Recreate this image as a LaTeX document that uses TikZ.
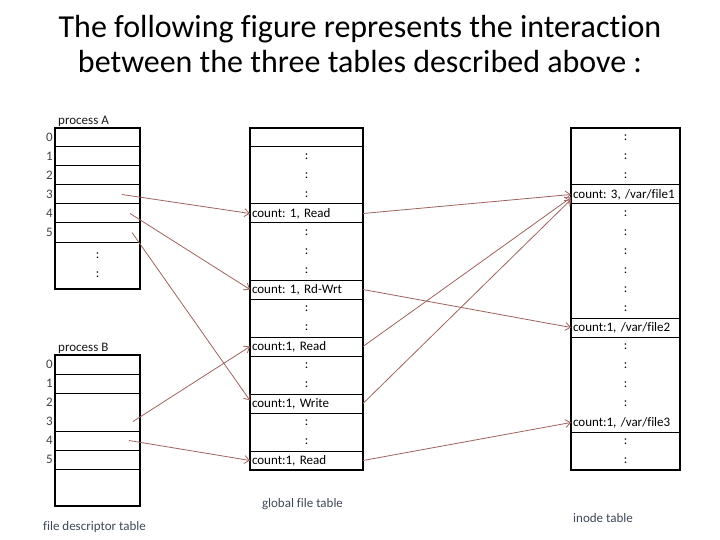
\documentclass[tikz,border=0pt]{standalone}
\usepackage{fontspec}
\setmainfont{Carlito}[Ligatures={NoCommon,NoRare,NoContextual}]
\usepackage{xcolor}
\usepackage{tikz}
\usetikzlibrary{arrows.meta,positioning,fit}
\definecolor{linkred}{RGB}{160,98,94}
\definecolor{capgray}{RGB}{62,72,86}
\frenchspacing

\begin{document}
\begin{tikzpicture}[
  x=1pt, y=-1pt,
  node distance=0pt,
  slot/.style={inner xsep=2pt, inner ysep=0pt, outer sep=0pt, minimum height=19pt, align=left, font=\fontsize{13}{19}\selectfont},
  cell/.style={slot, draw, line width=1pt},
  dots/.style={slot, align=center},
  fdrow/.style={text width=81pt},
  gfrow/.style={text width=109pt},
  inrow/.style={text width=105pt},
  frame/.style={draw, line width=2pt, inner sep=0pt, fit=#1},
  num/.style={font=\fontsize{13}{15}\selectfont, text=black!75, inner sep=0pt},
  caption/.style={font=\fontsize{13}{15}\selectfont, text=capgray, inner sep=0pt},
  arrow/.style={-{Straight Barb[length=5pt,width=8pt]}, line width=0.8pt, draw=linkred}
]
\useasboundingbox (0,0) rectangle (720,540);

\node[font=\fontsize{32}{35}\selectfont, align=center, inner sep=0pt, anchor=north] (title) at (360,15) {The following figure represents the interaction\\between the three tables described above :};

\node[cell, fdrow] (pA0) at (97.5,137.5) {};
\node[cell, fdrow, below=of pA0] (pA1) {};
\node[cell, fdrow, below=of pA1] (pA2) {};
\node[cell, fdrow, below=of pA2] (pA3) {};
\node[cell, fdrow, below=of pA3] (pA4) {};
\node[cell, fdrow, below=of pA4] (pA5) {};
\node[dots, fdrow, minimum height=47pt, below=of pA5] (pAdots) {:\\:};
\node[frame={(pA0)(pAdots)}] (pA) {};

\node[num, left=2pt of pA0] (nA0) {0};
\node[num, left=2pt of pA1] (nA1) {1};
\node[num, left=2pt of pA2] (nA2) {2};
\node[num, left=2pt of pA3] (nA3) {3};
\node[num, left=2pt of pA4] (nA4) {4};
\node[num, left=2pt of pA5] (nA5) {5};
\node[num, text=black!90, above right=0pt and 4pt of pA.north west] (pAname) {process A};

\node[cell, fdrow] (pB0) at (97.5,364.5) {};
\node[cell, fdrow, below=of pB0] (pB1) {};
\node[slot, fdrow, below=of pB1] (pB2) {};
\node[slot, fdrow, below=of pB2] (pB3) {};
\node[cell, fdrow, below=of pB3] (pB4) {};
\node[cell, fdrow, below=of pB4] (pB5) {};
\node[slot, fdrow, minimum height=37pt, below=of pB5] (pBend) {};
\node[frame={(pB0)(pBend)}] (pB) {};

\node[num, left=2pt of pB0] (nB0) {0};
\node[num, left=2pt of pB1] (nB1) {1};
\node[num, left=2pt of pB2] (nB2) {2};
\node[num, left=2pt of pB3] (nB3) {3};
\node[num, left=2pt of pB4] (nB4) {4};
\node[num, left=2pt of pB5] (nB5) {5};
\node[num, text=black!90, above right=0pt and 4pt of pB.north west] (pBname) {process B};
\node[caption, below=14pt of pB, xshift=-3pt] (fdcap) {file descriptor table};

\node[cell, gfrow] (gf0) at (306.5,137.5) {};
\node[dots, gfrow, minimum height=57pt, below=of gf0] (gfdots1) {:\\:\\:};
\node[cell, gfrow, below=of gfdots1] (gfread1) {count: 1, Read};
\node[dots, gfrow, minimum height=57pt, below=of gfread1] (gfdots2) {:\\:\\:};
\node[cell, gfrow, below=of gfdots2] (gfrw) {count: 1, Rd-Wrt};
\node[dots, gfrow, minimum height=38pt, below=of gfrw] (gfdots3) {:\\:};
\node[cell, gfrow, below=of gfdots3] (gfread2) {count:1, Read};
\node[dots, gfrow, minimum height=38pt, below=of gfread2] (gfdots4) {:\\:};
\node[cell, gfrow, below=of gfdots4] (gfwrite) {count:1, Write};
\node[dots, gfrow, minimum height=38pt, below=of gfwrite] (gfdots5) {:\\:};
\node[cell, gfrow, below=of gfdots5] (gfread3) {count:1, Read};
\node[frame={(gf0)(gfread3)}] (gft) {};
\node[caption, below=27pt of gft, xshift=-4pt] (gfcap) {global file table};

\node[dots, inrow, minimum height=57pt] (indots1) at (625.5,156.5) {:\\:\\:};
\node[cell, inrow, below=of indots1] (infile1) {count: 3, /var/file1};
\node[dots, inrow, minimum height=114pt, below=of infile1] (indots2) {:\\:\\:\\:\\:\\:};
\node[cell, inrow, below=of indots2] (infile2) {count:1, /var/file2};
\node[dots, inrow, minimum height=76pt, below=of infile2] (indots3) {:\\:\\:\\:};
\node[slot, inrow, below=of indots3] (infile3) {count:1, /var/file3};
\node[dots, inrow, minimum height=38pt, below=of infile3] (indots4) {:\\:};
\node[frame={(indots1)(indots4)}] (inode) {};
\draw[line width=1pt] (infile3.south west) -- (infile3.south east);
\node[caption, below right=42pt and 3pt of inode.south west] (incap) {inode table};

\draw[arrow] ([xshift=-18pt]pA3.east) -- (gfread1.west);
\draw[arrow] ([xshift=-10pt]pA4.east) -- (gfrw.west);
\draw[arrow] ([xshift=-8pt]pA5.east) -- ([yshift=3pt]gfwrite.west);
\draw[arrow] ([xshift=-7pt]pB3.east) -- (gfread2.west);
\draw[arrow] ([xshift=-11pt]pB4.east) -- (gfread3.west);

\draw[arrow] (gfread1.east) -- (infile1.west);
\draw[arrow] (gfrw.east) -- (infile2.west);
\draw[arrow] (gfread2.east) -- ([yshift=-3pt]infile1.west);
\draw[arrow] (gfwrite.east) -- ([yshift=-5pt]infile1.west);
\draw[arrow] (gfread3.east) -- (infile3.west);
\end{tikzpicture}
\end{document}
